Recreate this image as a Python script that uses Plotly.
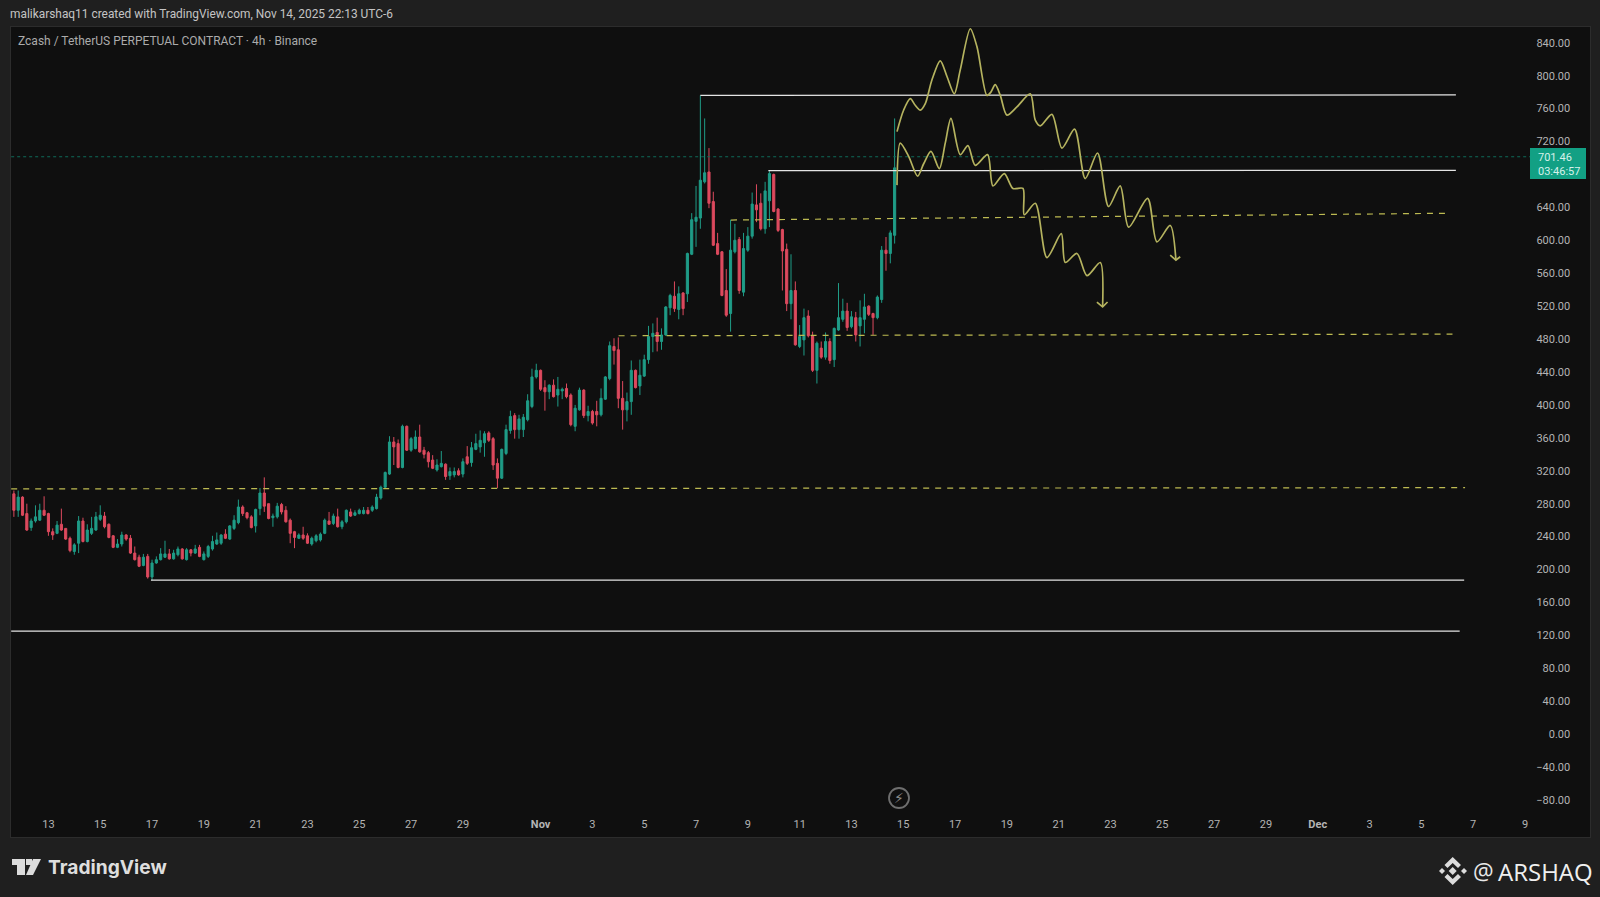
import pandas as pd
import plotly.graph_objects as go

W, H = 1600, 897
LEFT, RIGHT, TOP, BOTTOM = 11, 1590, 27, 837

# 4h candles
opens = [292,272,288,268,251,259,260,272,268,246,244,255,250,238,222,232,259,234,244,248,261,265,255,241,227,231,242,238,220,215,205,216,191,208,212,215,219,213,218,225,212,224,220,227,212,216,225,231,232,243,237,250,257,276,269,264,253,274,293,280,263,264,279,272,260,246,238,242,241,231,235,236,244,259,256,264,252,258,270,266,268,268,272,272,274,287,300,316,
         355,353,324,374,345,347,361,345,342,333,321,325,328,314,315,320,316,337,330,346,349,354,366,359,329,311,341,369,387,370,370,382,398,434,442,421,416,424,412,417,420,412,374,394,418,387,392,392,388,407,432,471,467,408,394,404,442,423,435,455,483,488,
         477,485,518,532,516,536,535,583,623,627,671,683,647,596,586,539,511,586,601,537,588,605,643,645,614,648,680,638,613,589,523,539,471,479,508,484,442,469,458,477,455,491,504,514,495,506,496,504,520,511,506,528,588,584,606]
highs = [296,296,289,280,262,278,280,289,269,250,259,274,250,240,232,265,263,255,264,270,278,270,256,242,237,246,243,242,228,218,219,219,212,216,226,235,225,224,228,226,226,225,230,230,222,230,241,245,243,249,254,266,285,278,270,266,274,299,312,280,268,281,281,277,262,247,244,252,244,240,243,245,262,270,268,274,260,273,274,272,274,276,276,278,292,302,319,362,
         361,358,376,375,361,369,376,349,344,339,334,344,329,324,324,323,335,350,355,365,369,368,368,361,335,347,376,393,390,388,389,413,444,450,443,430,425,431,434,421,426,414,400,421,419,399,394,405,420,435,477,481,482,429,415,454,443,455,461,496,499,506,
         493,520,535,550,544,537,585,633,666,776,748,712,659,609,587,565,625,620,604,609,616,658,668,657,671,684,681,639,614,596,583,550,497,517,515,489,477,477,488,481,494,548,529,524,514,513,527,535,521,512,533,593,604,612,748]
lows = [264,264,265,247,247,257,259,265,241,236,243,247,236,221,218,220,233,233,242,247,259,250,238,226,226,228,235,219,211,203,204,189,187,207,211,214,212,212,216,212,211,216,219,215,211,214,223,230,230,237,236,248,255,265,261,250,245,266,270,261,252,262,267,257,232,226,237,236,231,229,233,234,243,255,254,251,249,256,264,265,267,267,267,270,273,285,299,315,
        327,323,323,344,343,346,342,335,324,322,319,324,309,309,312,314,312,327,325,345,342,337,355,321,299,310,339,365,359,359,361,380,396,432,417,393,407,409,398,407,408,374,368,393,384,380,376,374,386,406,430,449,396,370,380,388,420,412,434,450,464,465,
        467,484,509,513,504,509,525,582,592,614,669,639,593,582,532,507,489,584,535,532,586,602,622,612,608,616,634,610,539,514,504,472,469,460,482,440,426,456,455,450,446,490,501,490,493,477,471,487,508,485,504,524,563,572,596]
closes = [272,288,266,248,259,264,272,266,246,242,254,248,237,223,230,259,234,248,250,264,266,252,239,227,231,242,237,220,212,204,215,191,208,212,219,219,213,220,225,213,224,220,225,216,219,228,234,236,242,238,253,260,276,268,263,251,273,293,277,262,265,277,270,258,244,239,242,238,232,238,241,243,260,255,265,252,258,272,265,269,272,272,268,276,288,300,318,355,
          349,324,374,345,359,361,343,340,331,323,327,329,313,319,319,315,331,329,348,353,357,365,357,327,311,346,370,386,370,383,385,405,434,442,419,416,424,410,419,419,410,376,396,418,387,392,378,388,408,434,472,466,408,394,404,442,421,436,455,483,487,477,
          485,519,533,517,535,517,584,625,628,673,682,645,594,583,533,509,588,600,539,590,605,644,637,614,660,681,635,612,587,523,539,473,483,506,484,442,475,458,477,454,493,506,514,494,507,485,506,519,510,506,531,588,584,609,688]
candle_times = pd.date_range("2025-10-11 16:00", periods=len(opens), freq="4h")

last_price = 701.46
countdown = "03:46:57"

# axis ticks, 680 sits behind the price tag in the picture
price_ticks = [-80, -40, 0, 40, 80, 120, 160, 200, 240, 280, 320, 360, 400, 440, 480, 520, 560, 600, 640, 720, 760, 800, 840]
date_ticks = ["2025-10-13", "2025-10-15", "2025-10-17", "2025-10-19", "2025-10-21", "2025-10-23", "2025-10-25", "2025-10-27", "2025-10-29",
              "2025-11-01", "2025-11-03", "2025-11-05", "2025-11-07", "2025-11-09", "2025-11-11", "2025-11-13", "2025-11-15", "2025-11-17",
              "2025-11-19", "2025-11-21", "2025-11-23", "2025-11-25", "2025-11-27", "2025-11-29",
              "2025-12-01", "2025-12-03", "2025-12-05", "2025-12-07", "2025-12-09"]
date_labels = ["13", "15", "17", "19", "21", "23", "25", "27", "29",
               "<b>Nov</b>", "3", "5", "7", "9", "11", "13", "15", "17", "19", "21", "23", "25", "27", "29",
               "<b>Dec</b>", "3", "5", "7", "9"]

# horizontal levels the author drew: (start, end), (price, price)
solid_levels = [
    (("2025-11-07 04:00", "2025-12-06 08:00"), (776, 776.5)),
    (("2025-11-09 19:00", "2025-12-06 08:00"), (684.5, 685)),
    (("2025-10-16 23:00", "2025-12-06 15:40"), (187.3, 187.3)),
    (("2025-10-11 13:30", "2025-12-06 11:30"), (125.3, 125.3)),
]
dashed_levels = [
    (("2025-11-08 08:24", "2025-12-05 23:30"), (624.6, 632.8)),
    (("2025-11-04 00:15", "2025-12-06 04:50"), (484, 486)),
    (("2025-10-11 13:30", "2025-12-06 16:30"), (298, 299.5)),
]

# projected wave paths, hours after Nov 14 00:00
upper_wave_hours = [18.2, 24.3, 30.5, 35.1, 39.8, 44.4, 50.6, 58.3, 64.5, 71.3, 76.8, 86.1, 92.3, 101.5, 105.2, 109.2, 113.9, 120, 129.3, 141.7,
                    146.3, 151, 161.7, 171, 182.7, 192.6, 204, 214.2, 225, 232.8, 250.4, 259, 271.3, 276.6]
upper_wave_prices = [732, 758, 772, 764, 758, 766, 795, 818, 799, 778, 807, 857, 835, 776, 780, 789, 776, 752, 762, 778,
                     746, 739, 753, 712, 735, 675, 706, 641, 666, 616, 651, 598, 618, 576]
upper_arrow_hours = [271.3, 276.6, 280.6]
upper_arrow_prices = [582, 576, 580]

lower_wave_hours = [18.2, 21.2, 29, 37.3, 42.9, 49.7, 57.4, 62.9, 68.2, 76.8, 83.9, 90.7, 102.1, 107.1, 117.6, 125.6, 134.9, 136.1, 146.3,
                    157.1, 170.4, 174.1, 184.9, 194.2, 206.5, 208.7]
lower_wave_prices = [667, 718, 702, 678, 693, 708, 687, 718, 748, 704, 715, 691, 704, 666, 681, 663, 663, 631, 645,
                     579, 608, 573, 584, 557, 573, 519]
lower_arrow_hours = [203.4, 208.7, 213.3]
lower_arrow_prices = [525, 519, 525]

CANDLE_UP = "#1f9c87"
CANDLE_DOWN = "#dd4a5e"
YELLOW = "#b5b35f"
DASH_YELLOW = "#bdba52"
WHITE_LINE = "#e4e4e4"


def px_x(x):
    return (x - LEFT) / (RIGHT - LEFT)


def px_y(y):
    return (BOTTOM - y) / (BOTTOM - TOP)


def poly(points):
    # closed svg path from page pixels, for the two logos
    return "M" + " L".join(f"{px_x(x):.5f},{px_y(y):.5f}" for x, y in points) + " Z"


def from_nov14(hours):
    return pd.Timestamp("2025-11-14") + pd.to_timedelta(hours, unit="h")


fig = go.Figure()

fig.add_trace(go.Candlestick(
    x=candle_times, open=opens, high=highs, low=lows, close=closes,
    increasing=dict(line=dict(color=CANDLE_UP, width=1), fillcolor=CANDLE_UP),
    decreasing=dict(line=dict(color=CANDLE_DOWN, width=1), fillcolor=CANDLE_DOWN),
    whiskerwidth=0, hoverinfo="skip",
))

# last price line
fig.add_trace(go.Scatter(
    x=["2025-10-11 13:30", "2025-12-10 12:00"], y=[last_price, last_price], mode="lines",
    line=dict(color="#0f6b5a", width=1, dash="dot"), hoverinfo="skip",
))

for xs, ys in solid_levels:
    fig.add_trace(go.Scatter(x=xs, y=ys, mode="lines", line=dict(color=WHITE_LINE, width=1.25), hoverinfo="skip"))
for xs, ys in dashed_levels:
    fig.add_trace(go.Scatter(x=xs, y=ys, mode="lines", line=dict(color=DASH_YELLOW, width=1.2, dash="6px,6px"), hoverinfo="skip"))

for hours, prices in [(upper_wave_hours, upper_wave_prices), (lower_wave_hours, lower_wave_prices)]:
    fig.add_trace(go.Scatter(
        x=from_nov14(hours), y=prices, mode="lines",
        line=dict(color=YELLOW, width=1.7, shape="spline", smoothing=0.8), hoverinfo="skip",
    ))
for hours, prices in [(upper_arrow_hours, upper_arrow_prices), (lower_arrow_hours, lower_arrow_prices)]:
    fig.add_trace(go.Scatter(x=from_nov14(hours), y=prices, mode="lines", line=dict(color=YELLOW, width=1.7), hoverinfo="skip"))

fig.update_layout(
    width=W, height=H,
    margin=dict(l=LEFT, r=W - RIGHT, t=TOP, b=H - BOTTOM, pad=0),
    paper_bgcolor="#1f1f1f", plot_bgcolor="#0f0f0f",
    showlegend=False, boxgap=0.3,
    font=dict(family="Roboto", color="#b4b4b4", size=11),
    xaxis=dict(
        type="date", range=["2025-10-11 13:20", "2025-12-11 12:15"], rangeslider=dict(visible=False),
        tickmode="array", tickvals=date_ticks, ticktext=date_labels, ticklabelposition="inside",
        ticks="", showgrid=False, zeroline=False, showline=True, linecolor="#2c2c2c", mirror=True,
        tickfont=dict(size=11, color="#b4b4b4"), ticklabelstandoff=6,
    ),
    yaxis=dict(
        side="right", range=[-124.9, 859.1],
        tickmode="array", tickvals=price_ticks, tickformat=".2f", ticklabelposition="inside",
        ticks="", showgrid=False, zeroline=False, showline=True, linecolor="#2c2c2c", mirror=True,
        tickfont=dict(size=11, color="#b4b4b4"), ticklabelstandoff=19,
    ),
)

text_items = [
    ("malikarshaq11 created with TradingView.com, Nov 14, 2025 22:13 UTC-6", 8, 14, 11.9, "#c4c4c4", "Roboto", "left"),
    ("Zcash / TetherUS PERPETUAL CONTRACT \u00b7 4h \u00b7 Binance", 16, 41, 12, "#ababab", "Roboto", "left"),
    ("<b>TradingView</b>", 46, 867, 19.2, "#dedede", "Inter", "left"),
    ("@", 1471, 871, 23, "#e8e8e8", "Open Sans", "left"),
    ("ARSHAQ", 1496, 871, 24, "#f0f0f0", "Open Sans", "left"),
    ("\u26a1", 899, 798, 14, "#8a8a8a", "DejaVu Sans", "center"),
]
for text, x, y, size, color, family, anchor in text_items:
    fig.add_annotation(
        text=text, xref="paper", yref="paper", x=px_x(x), y=px_y(y), xanchor=anchor, yanchor="middle",
        showarrow=False, font=dict(size=size, color=color, family=family),
    )

# price tag on the right
fig.add_shape(type="rect", xref="paper", yref="paper", x0=px_x(1530), x1=px_x(1586), y0=px_y(179), y1=px_y(148),
              fillcolor="#12a084", line=dict(width=0), layer="above")
fig.add_annotation(text=f"{last_price:.2f}<br>{countdown}", xref="paper", yref="paper", x=px_x(1536), y=px_y(164),
                   xanchor="left", yanchor="middle", align="left", showarrow=False, font=dict(size=11, color="#d6f1ea"))

# lightning button
fig.add_shape(type="circle", xref="paper", yref="paper", x0=px_x(889), x1=px_x(909), y0=px_y(808), y1=px_y(788),
              line=dict(color="#6e6e6e", width=1.8), layer="above")

# logos
logo_gray = "#dcdcdc"
tv_parts = [
    [(12, 859), (25, 859), (25, 875), (17, 875), (17, 865), (12, 865)],
    [(26, 859), (32, 859), (32, 865), (26, 865)],
    [(33, 859), (41, 859), (33, 875), (26, 875)],
]
binance_parts = [
    [(1452.7, 857), (1461, 865), (1458, 868), (1452.7, 863), (1447.5, 868), (1444.5, 865)],
    [(1452.7, 885), (1444.5, 877), (1447.5, 874), (1452.7, 879), (1458, 874), (1461, 877)],
    [(1439, 871), (1442, 868), (1445, 871), (1442, 874)],
    [(1461, 871), (1464, 868), (1467, 871), (1464, 874)],
    [(1452.7, 867), (1456.7, 871), (1452.7, 875), (1448.7, 871)],
]
for part in tv_parts + binance_parts:
    fig.add_shape(type="path", path=poly(part), xref="paper", yref="paper", fillcolor=logo_gray, line=dict(width=0), layer="above")

fig.write_html("out.html", config=dict(displayModeBar=False), post_script="document.body.style.margin='0';")
